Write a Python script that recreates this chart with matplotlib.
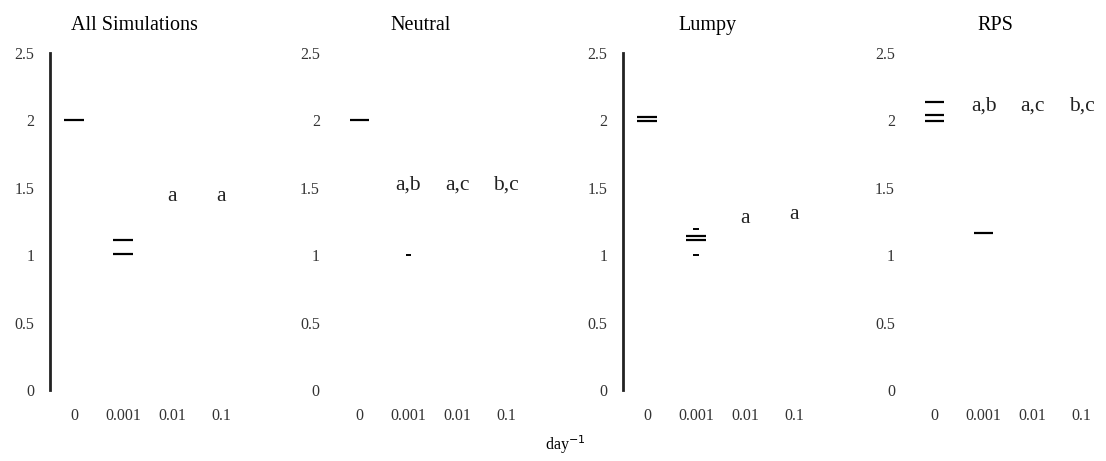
import numpy as np
import matplotlib
matplotlib.use("Agg")
import matplotlib.pyplot as plt

plt.rcParams['font.family'] = ['Liberation Serif', 'DejaVu Serif']

panels = ['All Simulations', 'Neutral', 'Lumpy', 'RPS']
rates = ['0', '0.001', '0.01', '0.1']

# estimated values drawn as horizontal bars, per panel: (rate index, value)
long_marks = [
	[(0, 2.0), (1, 1.11), (1, 1.01)],
	[(0, 2.0)],
	[(0, 2.02), (0, 1.99), (1, 1.14), (1, 1.11)],
	[(0, 2.13), (0, 2.04), (0, 1.99), (1, 1.16)],
]
short_marks = [
	[],
	[(1, 1.0)],
	[(1, 1.19), (1, 1.0)],
	[],
]

# significance letters, per panel: (rate index, height, text)
letters = [
	[(2, 1.43, 'a'), (3, 1.43, 'a')],
	[(1, 1.52, 'a,b'), (2, 1.52, 'a,c'), (3, 1.52, 'b,c')],
	[(2, 1.27, 'a'), (3, 1.30, 'a')],
	[(1, 2.10, 'a,b'), (2, 2.10, 'a,c'), (3, 2.10, 'b,c')],
]

show_spine = [True, False, True, False]
lefts = [0.045, 0.303, 0.563, 0.823]

fig = plt.figure(figsize=(11.06, 4.61), dpi=100)

for k in range(4):
	ax = fig.add_axes([lefts[k], 0.154, 0.177, 0.732])
	x = np.arange(len(rates))

	for i, v in long_marks[k]:
		ax.hlines(v, i - 0.2, i + 0.2, color='black', lw=1.6)
	for i, v in short_marks[k]:
		ax.hlines(v, i - 0.06, i + 0.06, color='black', lw=1.4)
	for i, v, t in letters[k]:
		ax.text(i, v, t, ha='center', va='center', fontsize=15.5, color='#222222')

	ax.set_xlim(-0.5, 3.5)
	ax.set_ylim(0, 2.5)
	ax.set_xticks(x)
	ax.set_xticklabels(rates)
	ax.set_yticks([0, 0.5, 1, 1.5, 2, 2.5])
	ax.set_yticklabels(['0', '0.5', '1', '1.5', '2', '2.5'])
	ax.tick_params(axis='both', length=0, labelsize=11.5, colors='#333333')
	ax.tick_params(axis='x', pad=13)
	ax.tick_params(axis='y', pad=11)

	for s in ['top', 'right', 'bottom']:
		ax.spines[s].set_visible(False)
	ax.spines['left'].set_visible(show_spine[k])
	ax.spines['left'].set_linewidth(2.0)
	ax.spines['left'].set_color('#222222')

	ax.set_title(panels[k], x=0.435, fontsize=14.5, pad=16)

fig.text(0.511, 0.035, r'day$^{-1}$', ha='center', va='center', fontsize=11.5)

fig.savefig("out.png", dpi=100)
plt.close()
